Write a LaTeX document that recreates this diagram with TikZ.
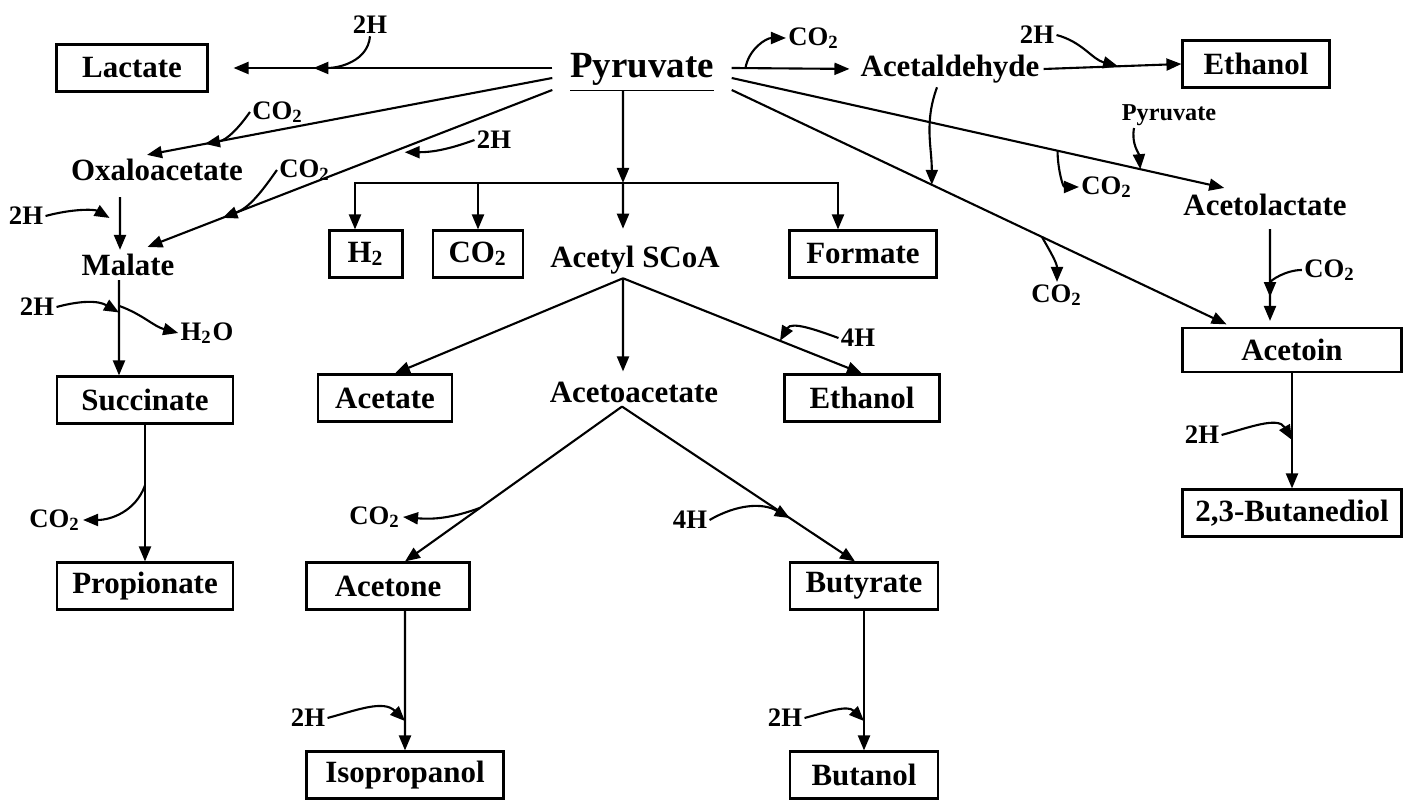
\documentclass[tikz,border=0pt]{standalone}
\usepackage{fontspec}
\setmainfont{Liberation Serif}
\usetikzlibrary{arrows.meta,positioning,calc}

\begin{document}
\begin{tikzpicture}[x=0.1mm, y=0.1mm,
    box/.style={draw, line width=0.6pt, minimum height=4.7mm, inner sep=0pt, font=\bfseries\fontsize{8.8}{10}\selectfont},
    met/.style={inner sep=1pt, font=\bfseries\fontsize{8.8}{10}\selectfont},
    cof/.style={inner sep=0.5pt, font=\bfseries\fontsize{7.6}{8}\selectfont},
    rxn/.style={-{Triangle[length=1.5mm, width=1.2mm]}, line width=0.6pt},
]
\useasboundingbox (0,0) rectangle (1413,-800);

% Pyruvate and top row
\node[met, font=\bfseries\fontsize{10.5}{12}\selectfont, minimum width=17.8mm, minimum height=4.4mm, inner sep=0pt] (pyr) at (642,-68) {\raisebox{-0.5mm}[\height][\depth]{\underline{Pyruvate}}};
\node[box, minimum width=15.1mm] (lac) at (132,-68) {Lactate};
\node[met] (acd) at (950,-69) {Acetaldehyde};
\node[box, minimum width=14.7mm] (eth1) at (1256,-64) {Ethanol};

% Left branch
\node[met] (oxa) at (157,-170) {Oxaloacetate};
\node[met] (mal) at (128,-265) {Malate};
\node[box, minimum width=17.6mm] (suc) at (145,-400) {Succinate};
\node[box, minimum width=17.6mm] (pro) at (145,-586) {Propionate};

% Acetyl SCoA branch
\node[box, minimum width=7.3mm] (h2) at (366,-254) {H\textsubscript{2}};
\node[box, minimum width=9mm] (co2b) at (478,-254) {CO\textsubscript{2}};
\node[met] (asc) at (635,-260) {Acetyl SCoA};
\node[box, minimum width=14.7mm] (frm) at (863,-254) {Formate};
\node[box, minimum width=13.4mm] (ace) at (385,-398) {Acetate};
\node[met] (aca) at (634,-392) {Acetoacetate};
\node[box, minimum width=15.5mm] (eth2) at (862,-398) {Ethanol};
\node[box, minimum width=16.3mm] (acn) at (388,-586) {Acetone};
\node[box, minimum width=14.8mm] (but) at (864,-586) {Butyrate};
\node[box, minimum width=19.7mm] (iso) at (405,-775) {Isopropanol};
\node[box, minimum width=14.8mm] (buo) at (864,-775) {Butanol};

% Right branch
\node[met] (alac) at (1265,-205) {Acetolactate};
\node[box, minimum width=21.9mm, minimum height=4.4mm] (atn) at (1292,-350) {Acetoin};
\node[box, minimum width=21.9mm] (bdo) at (1292,-513) {2,3-Butanediol};

% Cofactors
\node[cof] (h2a) at (370,-25) {2H};
\node[cof] (co2c) at (278,-112) {CO\textsubscript{2}};
\node[cof] (co2d) at (305,-170) {CO\textsubscript{2}};
\node[cof] (h2b) at (494,-140) {2H};
\node[cof] (co2a) at (814,-38) {CO\textsubscript{2}};
\node[cof] (h2c) at (1037,-35) {2H};
\node[cof, font=\bfseries\fontsize{6.9}{8}\selectfont] (pyr2) at (1169,-115) {Pyruvate};
\node[cof] (co2e) at (1107,-187) {CO\textsubscript{2}};
\node[cof] (co2f) at (1057,-295) {CO\textsubscript{2}};
\node[cof] (co2g) at (1330,-270) {CO\textsubscript{2}};
\node[cof] (h2d) at (1202,-435) {2H};
\node[cof] (h2e) at (26,-216) {2H};
\node[cof] (h2f) at (37,-307) {2H};
\node[cof] (h2o) at (207,-333) {H\textsubscript{2}O};
\node[cof] (co2h) at (55,-520) {CO\textsubscript{2}};
\node[cof] (h4a) at (858,-338) {4H};
\node[cof] (co2i) at (375,-517) {CO\textsubscript{2}};
\node[cof] (h4b) at (690,-520) {4H};
\node[cof] (h2g) at (308,-718) {2H};
\node[cof] (h2h) at (785,-718) {2H};

% Main reactions
\coordinate (j1) at (623,-183);
\draw[rxn, shorten >=2.5mm] (pyr.west) -- (lac.east);
\draw[rxn] ([yshift=-1mm]pyr.west) -- ([xshift=-1mm]oxa.north);
\draw[rxn, shorten >=0.8mm] ([yshift=-2.2mm]pyr.west) -- ([xshift=1.2mm]mal.north);
\draw[rxn] ([xshift=-1.9mm]pyr.south) -- (j1);
\draw[rxn, shorten >=1.3mm] (j1) -- ([xshift=-1.2mm]asc.north);
\draw[rxn] (j1) -| ([xshift=-1.1mm]h2.north);
\draw[rxn] (j1) -| (co2b.north);
\draw[rxn] (j1) -| ([xshift=-2.5mm]frm.north);
\draw[rxn, shorten >=0.7mm] (pyr.east) -- (acd.west);
\draw[rxn] (acd.east) -- (eth1.west);
\draw[rxn, shorten >=0.9mm] ([yshift=-1mm]pyr.east) -- ([xshift=-3.2mm]alac.north);
\draw[rxn, shorten >=0.6mm] ([yshift=-2.2mm]pyr.east) -- ([xshift=-6mm]atn.north);

\draw[rxn, shorten <=1.2mm] ([xshift=-3.7mm]oxa.south) -- ([xshift=-0.8mm]mal.north);
\draw[rxn] ([xshift=-0.9mm]mal.south) -- ([xshift=-2.6mm]suc.north);
\draw[rxn] (suc.south) -- (pro.north);

\draw[rxn] ([xshift=-1.2mm]asc.south) -- ([xshift=1mm]ace.north);
\draw[rxn, shorten >=0.6mm] ([xshift=-1.2mm]asc.south) -- ([xshift=-1.1mm]aca.north);
\draw[rxn] ([xshift=-1.2mm]asc.south) -- (eth2.north);
\draw[rxn] ([xshift=-1.2mm]aca.south) -- ([xshift=1.7mm]acn.north);
\draw[rxn] ([xshift=-1.2mm]aca.south) -- ([xshift=-0.9mm]but.north);
\draw[rxn] ([xshift=1.7mm]acn.south) -- (iso.north);
\draw[rxn] (but.south) -- (buo.north);

\draw[rxn, shorten <=0.9mm, shorten >=0.6mm] ([xshift=0.5mm]alac.south) -- ([xshift=-2.2mm]atn.north);
\draw[rxn] (atn.south) -- (bdo.north);

% Points on the reaction lines
\coordinate (cLac) at ($(pyr.west)!0.695!(lac.east)$);
\coordinate (cOxa) at ($([yshift=-1mm]pyr.west)!0.857!([xshift=-1mm]oxa.north)$);
\coordinate (cMal) at ($([yshift=-2.2mm]pyr.west)!0.8!([xshift=1.2mm]mal.north)$);
\coordinate (cMal2) at ($([yshift=-2.2mm]pyr.west)!0.358!([xshift=1.2mm]mal.north)+(0,-5)$);
\coordinate (cAcd) at ($(pyr.east)!0.11!(acd.west)$);
\coordinate (cEth) at ($(acd.east)!0.54!(eth1.west)$);
\coordinate (cAlac1) at ($([yshift=-1mm]pyr.east)!0.65!([xshift=-3.2mm]alac.north)$);
\coordinate (cAlac2) at ($([yshift=-1mm]pyr.east)!0.815!([xshift=-3.2mm]alac.north)$);
\coordinate (cAtn1) at ($([yshift=-2.2mm]pyr.east)!0.40!([xshift=-6mm]atn.north)$);
\coordinate (cAtn2) at ($([yshift=-2.2mm]pyr.east)!0.62!([xshift=-6mm]atn.north)$);
\coordinate (cAtn3) at ($([xshift=0.5mm]alac.south)!0.72!([xshift=-2.2mm]atn.north)$);
\coordinate (cBdo) at ($(atn.south)!0.58!(bdo.north)$);
\coordinate (cMal3) at ($([xshift=-3.7mm]oxa.south)!0.6!([xshift=-0.8mm]mal.north)$);
\coordinate (cSuc) at ($([xshift=-0.9mm]mal.south)!0.34!([xshift=-2.6mm]suc.north)$);
\coordinate (cSuc2) at ($([xshift=-0.9mm]mal.south)!0.27!([xshift=-2.6mm]suc.north)$);
\coordinate (cPro) at ($(suc.south)!0.445!(pro.north)$);
\coordinate (cEth2) at ($([xshift=-1.2mm]asc.south)!0.657!(eth2.north)$);
\coordinate (cAcn) at ($([xshift=-1.2mm]aca.south)!0.654!([xshift=1.7mm]acn.north)$);
\coordinate (cBut) at ($([xshift=-1.2mm]aca.south)!0.72!([xshift=-0.9mm]but.north)$);
\coordinate (cIso) at ($([xshift=1.7mm]acn.south)!0.79!(iso.north)$);
\coordinate (cBuo) at ($(but.south)!0.79!(buo.north)$);

% Cofactor arrows
\draw[rxn] (h2a.south) to[out=-95, in=0] (cLac);
\draw[rxn] (co2c.west) to[out=235, in=10] (cOxa);
\draw[rxn] (co2d.west) to[out=235, in=21] (cMal);
\draw[rxn] (h2b.west) to[out=200, in=0] (cMal2);
\draw[rxn] (cAcd) to[out=80, in=180] (co2a.west);
\draw[rxn] (h2c.east) to[out=-15, in=165] (cEth);
\draw[rxn] ([xshift=-1.3mm]acd.south) to[out=-110, in=90] (cAtn1);
\draw[rxn] (cAtn2) to[out=-60, in=90] (co2f.north);
\draw[rxn] (cAlac1) to[out=-90, in=180] (co2e.west);
\draw[rxn] ([xshift=-3.5mm]pyr2.south) to[out=-100, in=95] (cAlac2);
\draw[rxn] (co2g.west) to[out=180, in=90] (cAtn3);
\draw[rxn] (h2d.east) to[out=15, in=120] (cBdo);
\draw[rxn, shorten >=1.2mm] (h2e.east) to[out=15, in=150] (cMal3);
\draw[rxn] (h2f.east) to[out=15, in=150] (cSuc);
\draw[rxn] (cSuc2) to[out=-20, in=165] (h2o.west);
\draw[rxn] (cPro) to[out=-110, in=0] (co2h.east);
\draw[rxn] (h4a.west) to[out=160, in=60] (cEth2);
\draw[rxn] (cAcn) to[out=200, in=-5] (co2i.east);
\draw[rxn] (h4b.east) to[out=30, in=150] (cBut);
\draw[rxn] (h2g.east) to[out=15, in=135] (cIso);
\draw[rxn] (h2h.east) to[out=15, in=135] (cBuo);

\end{tikzpicture}
\end{document}
